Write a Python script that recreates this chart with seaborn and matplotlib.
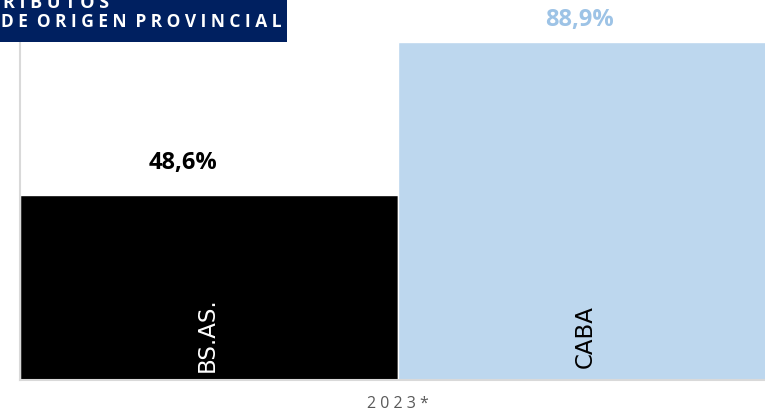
import matplotlib
matplotlib.use("Agg")
import matplotlib.pyplot as plt
import matplotlib.patches as mpatches
import seaborn as sns

# data
regions = ["BS.AS.", "CABA"]
shares = [48.6, 88.9]
value_labels = ["48,6%", "88,9%"]
year_label = "2 0 2 3 *"
title_line1 = "R I B U T O S"
title_line2 = "D E  O R I G E N  P R O V I N C I A L"

BAR_COLORS = ["#000000", "#BDD7EE"]
VALUE_COLORS = ["#000000", "#9DC3E6"]
NAME_COLORS = ["#FFFFFF", "#000000"]
NAVY = "#002060"
GRID_GRAY = "#D9D9D9"

sns.set_style("white")
plt.rcParams["font.family"] = ["Open Sans", "DejaVu Sans"]

W, H = 765, 414
fig = plt.figure(figsize=(W / 100, H / 100), dpi=100)
# the plot area runs a little past the right edge of the picture
ax = fig.add_axes([20 / W, 33 / H, 756 / W, 380.5 / H])

sns.barplot(x=regions, y=shares, hue=regions, palette=BAR_COLORS,
            width=1.0, saturation=1, legend=False, ax=ax)

ax.set_xlim(-0.5, 1.5)
ax.set_ylim(0, 100)
ax.set_yticks([])
ax.set_xticks([-0.5, 1.5])
ax.set_xticklabels(["", ""])
ax.tick_params(axis="x", length=6, width=1.5, color=GRID_GRAY, direction="out", pad=0)
ax.set_xlabel(year_label, fontsize=11.5, color="#595959", labelpad=5)
ax.set_ylabel("")

for side in ["top", "right"]:
    ax.spines[side].set_visible(False)
for side in ["left", "bottom"]:
    ax.spines[side].set_color(GRID_GRAY)
    ax.spines[side].set_linewidth(1.5)

# value labels above the bars (px offsets)
offsets = [(-26, 33), (-7, 23)]
for i, (val, lab) in enumerate(zip(shares, value_labels)):
    ax.annotate(lab, xy=(i, val), xytext=offsets[i], textcoords="offset pixels",
                ha="center", va="center", fontsize=17, fontweight="bold",
                color=VALUE_COLORS[i])

# region names inside the bars, rotated
name_lift = [9, 13]
for i, name in enumerate(regions):
    ax.annotate(name, xy=(i, 0), xytext=(-2, name_lift[i]), textcoords="offset pixels",
                ha="center", va="bottom", rotation=90, fontsize=16.5,
                family=["DejaVu Sans"], color=NAME_COLORS[i])

# navy title box in the top-left corner
fig.patches.append(mpatches.Rectangle((0, 1 - 43 / H), 287 / W, 43 / H,
                                      transform=fig.transFigure,
                                      facecolor=NAVY, edgecolor="none", zorder=5))
fig.text(3 / W, 1 - 8 / H, title_line1, ha="left", va="baseline",
         fontsize=13, fontweight="bold", color="white", zorder=6)
fig.text(1 / W, 1 - 27 / H, title_line2, ha="left", va="baseline",
         fontsize=12.5, fontweight="bold", color="white", zorder=6)

fig.savefig("out.png", dpi=100)
